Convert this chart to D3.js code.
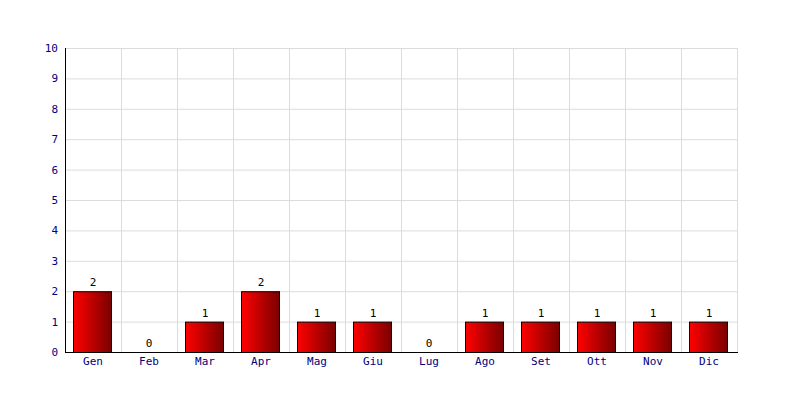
<!DOCTYPE html>
<html><head><meta charset="utf-8">
<script src="https://cdn.jsdelivr.net/npm/d3@7"></script>
<style>body{margin:0;background:#fff}</style>
</head><body>
<svg id="c" width="800" height="400"></svg>
<script>
const categories = ["Gen","Feb","Mar","Apr","Mag","Giu","Lug","Ago","Set","Ott","Nov","Dic"];
const values = [2,0,1,2,1,1,0,1,1,1,1,1];
const yTicks = [0,1,2,3,4,5,6,7,8,9,10];

const svg = d3.select("#c");
const L = 65, R = 737, T = 48, B = 352;
const x = d3.scaleBand().domain(categories).range([L, R]).paddingInner(0.32).paddingOuter(0.16);
const xb = d3.scaleBand().domain(categories).range([L, R]);
const y = d3.scaleLinear().domain([0, 10]).range([B, T]);

const defs = svg.append("defs");
const g = defs.append("linearGradient").attr("id","gr").attr("x1","0").attr("x2","1").attr("y1","0").attr("y2","0");
g.append("stop").attr("offset","0").attr("stop-color","#ff0000");
g.append("stop").attr("offset","1").attr("stop-color","#7a0000");

// grid
svg.append("g").selectAll("line").data(yTicks).join("line")
  .attr("x1", L).attr("x2", R).attr("y1", d => y(d)+0.5).attr("y2", d => y(d)+0.5)
  .attr("stroke", "#dcdcdc");
svg.append("g").selectAll("line").data(categories).join("line")
  .attr("x1", d => xb(d)+xb.bandwidth()+0.5).attr("x2", d => xb(d)+xb.bandwidth()+0.5)
  .attr("y1", T).attr("y2", B).attr("stroke", "#dcdcdc");

// bars
svg.append("g").selectAll("rect").data(values).join("rect")
  .attr("x", (d,i) => Math.floor(x(categories[i]))+0.5)
  .attr("y", d => y(d)+0.5)
  .attr("width", Math.round(x.bandwidth()))
  .attr("height", d => B - y(d))
  .attr("fill", "url(#gr)")
  .attr("stroke", d => d > 0 ? "#000" : "none");

// value labels
svg.append("g").selectAll("text").data(values).join("text")
  .attr("x", (d,i) => Math.floor(x(categories[i])) + x.bandwidth()/2 + 1)
  .attr("y", d => y(d) - 5)
  .attr("text-anchor","middle")
  .attr("font-family","DejaVu Sans Mono, monospace").attr("font-size", 11)
  .attr("fill","#000").text(d => d);

// axes
const ya = svg.append("g").attr("transform", `translate(${L},0)`)
  .call(d3.axisLeft(y).tickValues(yTicks).tickSize(0).tickPadding(7));
ya.select(".domain").remove();
ya.selectAll("text").attr("font-family","DejaVu Sans Mono, monospace").attr("font-size", 11).attr("fill","#000080");
const xa = svg.append("g").attr("transform", `translate(0,${B})`)
  .call(d3.axisBottom(xb).tickSize(0).tickPadding(5));
xa.select(".domain").remove();
xa.selectAll("text").attr("font-family","DejaVu Sans Mono, monospace").attr("font-size", 11).attr("fill","#000080");

svg.append("line").attr("x1", L+0.5).attr("x2", L+0.5).attr("y1", T).attr("y2", B+1).attr("stroke","#000");
svg.append("line").attr("x1", L).attr("x2", R+1).attr("y1", B+0.5).attr("y2", B+0.5).attr("stroke","#000");
</script>
</body></html>
